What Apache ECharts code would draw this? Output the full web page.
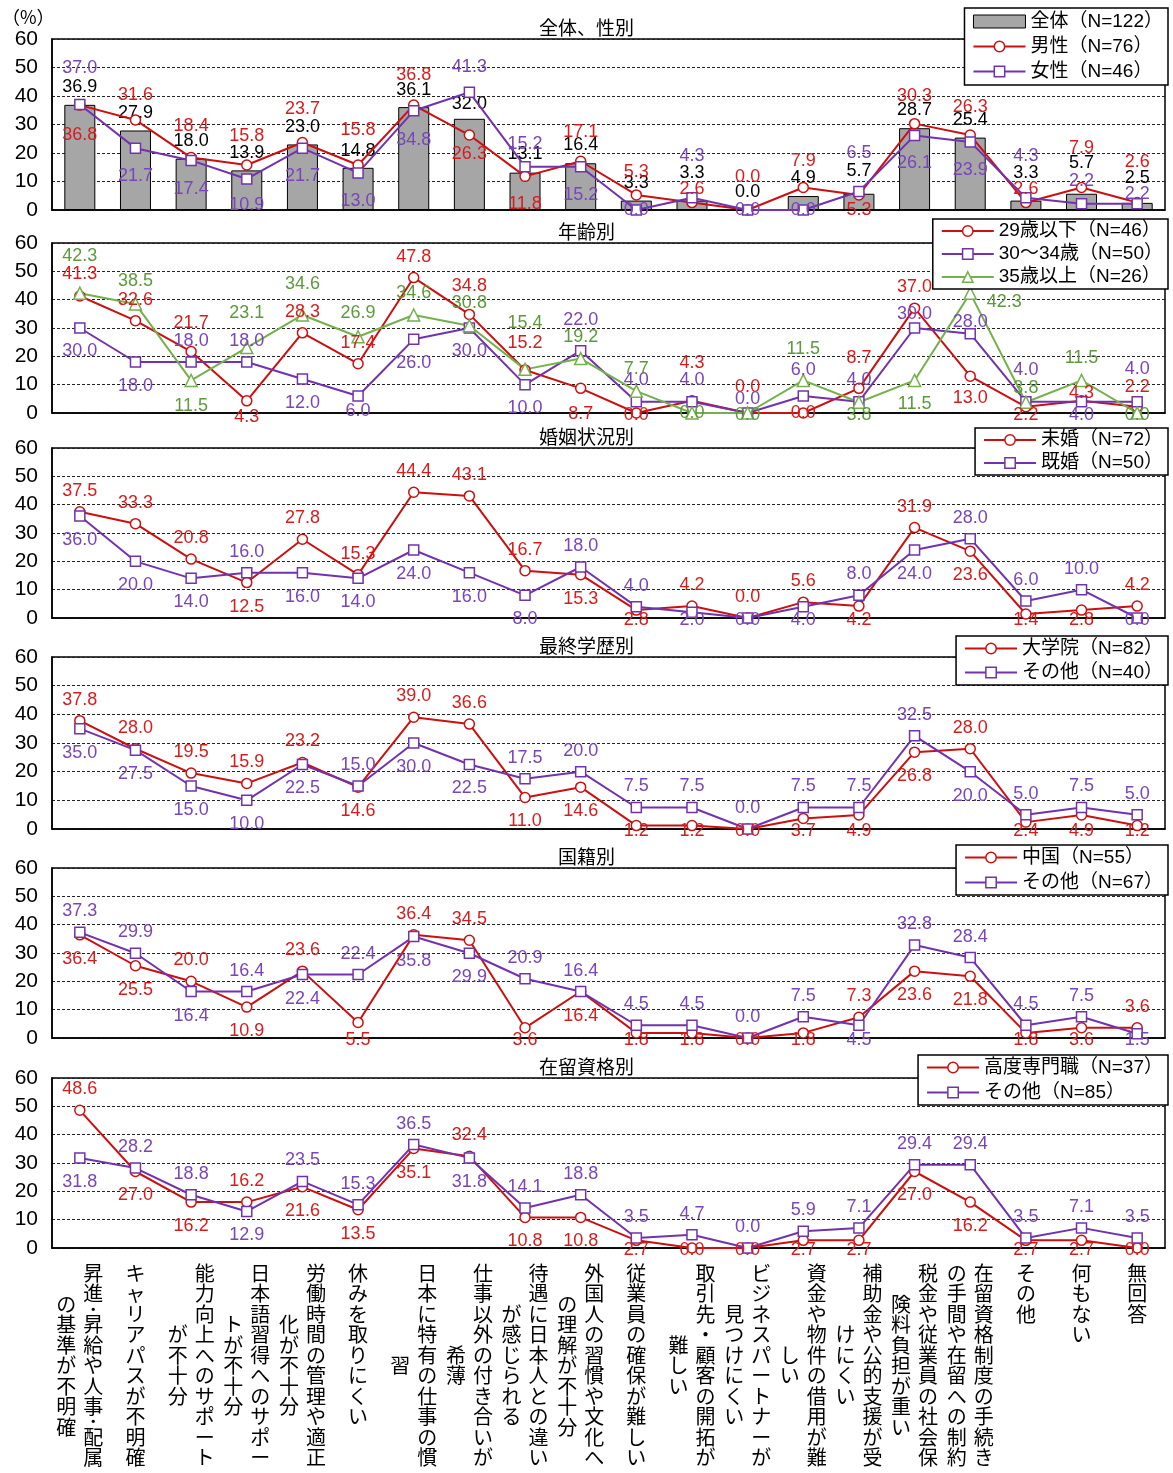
<!DOCTYPE html>
<html>
<head>
<meta charset="utf-8">
<script src="https://cdn.jsdelivr.net/npm/echarts@6/dist/echarts.min.js"></script>
<style>
  html, body { margin: 0; padding: 0; background: #fff; }
  #chart { width: 1173px; height: 1473px; }
</style>
</head>
<body>
<div id="chart"></div>
<script>
// ---- categories: each entry lists the vertical text columns, read right to left ----
const categoryColumns = [
  ['昇進･昇給や人事･配属', 'の基準が不明確'],
  ['キャリアパスが不明確'],
  ['能力向上へのサポート', 'が不十分'],
  ['日本語習得へのサポー', 'トが不十分'],
  ['労働時間の管理や適正', '化が不十分'],
  ['休みを取りにくい'],
  ['日本に特有の仕事の慣', '習'],
  ['仕事以外の付き合いが', '希薄'],
  ['待遇に日本人との違い', 'が感じられる'],
  ['外国人の習慣や文化へ', 'の理解が不十分'],
  ['従業員の確保が難しい'],
  ['取引先・顧客の開拓が', '難しい'],
  ['ビジネスパートナーが', '見つけにくい'],
  ['資金や物件の借用が難', 'しい'],
  ['補助金や公的支援が受', 'けにくい'],
  ['税金や従業員の社会保', '険料負担が重い'],
  ['在留資格制度の手続き', 'の手間や在留への制約'],
  ['その他'],
  ['何もない'],
  ['無回答']
];
const categoryNames = categoryColumns.map(c => c.join(''));

// ---- value axis ----
const yMin = 0, yMax = 60, yStep = 10;

// ---- 全体、性別 ----
const totalAll     = [36.9, 27.9, 18.0, 13.9, 23.0, 14.8, 36.1, 32.0, 13.1, 16.4, 3.3, 3.3, 0.0, 4.9, 5.7, 28.7, 25.4, 3.3, 5.7, 2.5];
const genderMale   = [36.8, 31.6, 18.4, 15.8, 23.7, 15.8, 36.8, 26.3, 11.8, 17.1, 5.3, 2.6, 0.0, 7.9, 5.3, 30.3, 26.3, 2.6, 7.9, 2.6];
const genderFemale = [37.0, 21.7, 17.4, 10.9, 21.7, 13.0, 34.8, 41.3, 15.2, 15.2, 0.0, 4.3, 0.0, 0.0, 6.5, 26.1, 23.9, 4.3, 2.2, 2.2];

// ---- 年齢別 ----
const ageUnder29 = [41.3, 32.6, 21.7, 4.3, 28.3, 17.4, 47.8, 34.8, 15.2, 8.7, 0.0, 4.3, 0.0, 0.0, 8.7, 37.0, 13.0, 2.2, 4.3, 2.2];
const age30to34  = [30.0, 18.0, 18.0, 18.0, 12.0, 6.0, 26.0, 30.0, 10.0, 22.0, 4.0, 4.0, 0.0, 6.0, 4.0, 30.0, 28.0, 4.0, 4.0, 4.0];
const age35plus  = [42.3, 38.5, 11.5, 23.1, 34.6, 26.9, 34.6, 30.8, 15.4, 19.2, 7.7, 0.0, 0.0, 11.5, 3.8, 11.5, 42.3, 3.8, 11.5, 0.0];

// ---- 婚姻状況別 ----
const unmarried = [37.5, 33.3, 20.8, 12.5, 27.8, 15.3, 44.4, 43.1, 16.7, 15.3, 2.8, 4.2, 0.0, 5.6, 4.2, 31.9, 23.6, 1.4, 2.8, 4.2];
const married   = [36.0, 20.0, 14.0, 16.0, 16.0, 14.0, 24.0, 16.0, 8.0, 18.0, 4.0, 2.0, 0.0, 4.0, 8.0, 24.0, 28.0, 6.0, 10.0, 0.0];

// ---- 最終学歴別 ----
const eduGraduate = [37.8, 28.0, 19.5, 15.9, 23.2, 14.6, 39.0, 36.6, 11.0, 14.6, 1.2, 1.2, 0.0, 3.7, 4.9, 26.8, 28.0, 2.4, 4.9, 1.2];
const eduOther    = [35.0, 27.5, 15.0, 10.0, 22.5, 15.0, 30.0, 22.5, 17.5, 20.0, 7.5, 7.5, 0.0, 7.5, 7.5, 32.5, 20.0, 5.0, 7.5, 5.0];

// ---- 国籍別 ----
const natChina = [36.4, 25.5, 20.0, 10.9, 23.6, 5.5, 36.4, 34.5, 3.6, 16.4, 1.8, 1.8, 0.0, 1.8, 7.3, 23.6, 21.8, 1.8, 3.6, 3.6];
const natOther = [37.3, 29.9, 16.4, 16.4, 22.4, 22.4, 35.8, 29.9, 20.9, 16.4, 4.5, 4.5, 0.0, 7.5, 4.5, 32.8, 28.4, 4.5, 7.5, 1.5];

// ---- 在留資格別 ----
const visaHighlySkilled = [48.6, 27.0, 16.2, 16.2, 21.6, 13.5, 35.1, 32.4, 10.8, 10.8, 2.7, 0.0, 0.0, 2.7, 2.7, 27.0, 16.2, 2.7, 2.7, 0.0];
const visaOther         = [31.8, 28.2, 18.8, 12.9, 23.5, 15.3, 36.5, 31.8, 14.1, 18.8, 3.5, 4.7, 0.0, 5.9, 7.1, 29.4, 29.4, 3.5, 7.1, 3.5];

// ---- data label placement (vertical nudge in px; 'a' = above, 'b' = below) ----
const lblTotal  = [-18,-17,-18,-17,-17,-17,-17,-15,-19,-18,-18,-28,-17,-18,-23,-18,-18,-28,-31,-25];
const lblMale   = [30,-25,-32,-29,-33,-35,-30,19,28,-29,-23,-14,-33,-26,15,-28,-28,-14,-39,-41];
const lblFemale = [-37,28,29,26,28,28,29,-25,-23,28,0,-42,0,0,-38,27,28,-42,-23,-10];
const lblAge29  = [-22,-21,-28,16,-21,-21,-21,-28,-27,26,2,-38,-26,0,-30,-21,22,8,-8,-20];
const lblAge30  = [23,24,-21,-21,24,15,24,23,23,-31,-22,-22,-14,-26,-22,-14,-12,-32,13,-33];
const lblAge35  = [-37,-23,26,-35,-31,-24,-22,-23,-46,-22,-22,0,2,-31,13,24,[34,9],-14,-22,2];
const lblUnmarried = 'aaabaaaaabbaaababbba';
const lblMarried   = 'bbbabbbbbaabbbabaaab';
const lblEduGrad   = 'aaaaabaabbbbbbbbabbb';
const lblEduOther  = 'bbbbbabbaaaaaaaabaaa';
const lblChina     = 'bbababaabbbbbbabbbba';
const lblNatOther  = 'aabababbaaaaaabaaaab';
const lblVisaHS    = 'abbabbbabbbbbbbbbbbb';
const lblVisaOther = 'baabaaabaaaaaaaaaaaa';

// ---- styling ----
const FONT_LATIN = '"Liberation Sans", Arial, "Noto Sans CJK JP", sans-serif';
const FONT_CJK = '"Noto Sans CJK JP", "Liberation Sans", sans-serif';
const RED = '#cc0f0f', RED_TEXT = '#d81c1c';
const PURPLE = '#7232ad', PURPLE_TEXT = '#7a44bb';
const GREEN = '#74b04b', GREEN_TEXT = '#5c9a3c';
const BAR_GRAY = '#a6a6a6';
const LABEL_FS = 18;

const redCircle = { color: RED, textColor: RED_TEXT, symbol: 'circle', symbolSize: 10 };
const purpleSquare = { color: PURPLE, textColor: PURPLE_TEXT, symbol: 'rect', symbolSize: 10 };
const greenTriangle = { color: GREEN, textColor: GREEN_TEXT, symbol: 'triangle', symbolSize: 12 };

const panels = [
  { title: '全体、性別', top: 39, height: 171, legendTop: 8, legendLine: 23, legendGap: 2, legendPad: 2,
    series: [
      { kind: 'bar', name: '全体（N=122）', values: totalAll, labels: lblTotal },
      Object.assign({ kind: 'line', name: '男性（N=76）', values: genderMale, labels: lblMale }, redCircle),
      Object.assign({ kind: 'line', name: '女性（N=46）', values: genderFemale, labels: lblFemale }, purpleSquare)
    ] },
  { title: '年齢別', top: 243, height: 170, legendTop: 219, legendLine: 22, legendGap: 1, legendPad: 1,
    series: [
      Object.assign({ kind: 'line', name: '29歳以下（N=46）', values: ageUnder29, labels: lblAge29 }, redCircle),
      Object.assign({ kind: 'line', name: '30～34歳（N=50）', values: age30to34, labels: lblAge30 }, purpleSquare),
      Object.assign({ kind: 'line', name: '35歳以上（N=26）', values: age35plus, labels: lblAge35 }, greenTriangle)
    ] },
  { title: '婚姻状況別', top: 448, height: 170, legendTop: 428, legendLine: 22, legendGap: 1, legendPad: 1,
    series: [
      Object.assign({ kind: 'line', name: '未婚（N=72）', values: unmarried, labels: lblUnmarried }, redCircle),
      Object.assign({ kind: 'line', name: '既婚（N=50）', values: married, labels: lblMarried }, purpleSquare)
    ] },
  { title: '最終学歴別', top: 657, height: 172, legendTop: 636, legendLine: 23, legendGap: 1, legendPad: 1,
    series: [
      Object.assign({ kind: 'line', name: '大学院（N=82）', values: eduGraduate, labels: lblEduGrad }, redCircle),
      Object.assign({ kind: 'line', name: 'その他（N=40）', values: eduOther, labels: lblEduOther }, purpleSquare)
    ] },
  { title: '国籍別', top: 868, height: 170, legendTop: 845, legendLine: 23, legendGap: 2, legendPad: 1,
    series: [
      Object.assign({ kind: 'line', name: '中国（N=55）', values: natChina, labels: lblChina }, redCircle),
      Object.assign({ kind: 'line', name: 'その他（N=67）', values: natOther, labels: lblNatOther }, purpleSquare)
    ] },
  { title: '在留資格別', top: 1078, height: 170, legendTop: 1055, legendLine: 23, legendGap: 2, legendPad: 1,
    series: [
      Object.assign({ kind: 'line', name: '高度専門職（N=37）', values: visaHighlySkilled, labels: lblVisaHS }, redCircle),
      Object.assign({ kind: 'line', name: 'その他（N=85）', values: visaOther, labels: lblVisaOther }, purpleSquare)
    ] }
];

// label nudge: 'a' sits above the point, 'b' below but never past the zero line
function labelOffset(code, value, plotH) {
  const px = value * plotH / (yMax - yMin);
  if (code === 'a') return [0, -21];
  if (code === 'b') return [0, Math.min(24, px + 2)];
  if (Array.isArray(code)) return code.slice();
  return [0, code];
}

const fmt = p => Number(p.value).toFixed(1);

function makeSeries(s, gi, plotH) {
  const items = s.values.map((v, i) => {
    const off = labelOffset(s.labels[i], v, plotH);
    if (s.kind === 'bar') off[1] += 9;
    return { value: v, label: { offset: off } };
  });
  if (s.kind === 'bar') {
    return {
      type: 'bar', name: s.name, xAxisIndex: gi, yAxisIndex: gi, data: items,
      barWidth: 31,
      itemStyle: { color: BAR_GRAY, borderColor: '#000', borderWidth: 1 },
      label: { show: true, position: 'top', distance: 0, formatter: fmt,
               fontSize: LABEL_FS, fontFamily: FONT_LATIN, color: '#000' },
      emphasis: { disabled: true }, silent: true
    };
  }
  return {
    type: 'line', name: s.name, xAxisIndex: gi, yAxisIndex: gi, data: items,
    symbol: s.symbol, symbolSize: s.symbolSize, showAllSymbol: true,
    lineStyle: { color: s.color, width: 2 },
    itemStyle: { color: '#fff', borderColor: s.color, borderWidth: 1.5 },
    label: { show: true, position: 'inside', formatter: fmt,
             fontSize: LABEL_FS, fontFamily: FONT_LATIN, color: s.textColor },
    emphasis: { disabled: true }, silent: true
  };
}

function legendItem(s) {
  if (s.kind === 'bar') {
    return { name: s.name, icon: 'rect',
             itemStyle: { color: BAR_GRAY, borderColor: '#000', borderWidth: 1 } };
  }
  return { name: s.name,
           itemStyle: { color: '#fff', borderColor: s.color, borderWidth: 1.5 },
           lineStyle: { color: s.color, width: 2 } };
}

// ---- vertical category text ----
const CAT_FS = 20, CAT_LH = 20.5, COL_SHIFT = 27;
function columnLength(str) {
  let n = 0;
  for (const ch of str) n += (ch === '･') ? 0.5 : 1;
  return n;
}
function columnRich(str, style) {
  return Array.from(str).map(ch => ch === '･' ? `{${style}h|${ch}}` : `{${style}|${ch}}`).join('\n');
}
function catStyle(padding, lh) {
  return { fontSize: CAT_FS, lineHeight: lh, fontFamily: FONT_CJK, color: '#000', padding: padding };
}
const catRich = {
  c:  catStyle([0, 0, 0, 0], CAT_LH),
  ch: catStyle([0, 0, 0, 0], CAT_LH / 2),
  r:  catStyle([0, 0, 0, COL_SHIFT], CAT_LH),
  rh: catStyle([0, 0, 0, COL_SHIFT], CAT_LH / 2),
  l:  catStyle([0, COL_SHIFT, 0, 0], CAT_LH),
  lh: catStyle([0, COL_SHIFT, 0, 0], CAT_LH / 2),
  sp: { fontSize: 6, lineHeight: CAT_LH / 2 }
};
function firstColumnLabel(value, idx) {
  const cols = categoryColumns[idx];
  return cols.length === 1 ? columnRich(cols[0], 'c') : columnRich(cols[0], 'r');
}
function secondColumnLabel(value, idx) {
  const cols = categoryColumns[idx];
  if (cols.length < 2) return '';
  const halfLines = Math.round(columnLength(cols[0]) - columnLength(cols[1]));
  const spacer = halfLines > 0 ? Array(halfLines).fill('{sp| }').join('\n') + '\n' : '';
  return spacer + columnRich(cols[1], 'l');
}

// ---- assemble option ----
const titles = [{
  text: '（%）', left: 2, top: 8, padding: 0,
  textStyle: { fontSize: 18, fontWeight: 'normal', color: '#000', fontFamily: FONT_CJK }
}];
const grids = [], xAxes = [], yAxes = [], legends = [], series = [];
const lastPanel = panels.length - 1;

panels.forEach((p, gi) => {
  grids.push({ left: 52, right: 8, top: p.top, height: p.height, show: true,
               borderColor: '#000', borderWidth: 1.5, containLabel: false, outerBoundsMode: 'none' });
  titles.push({ text: p.title, left: 'center', top: p.top - 21, padding: 0,
                textStyle: { fontSize: 19, fontWeight: 'normal', color: '#000', fontFamily: FONT_CJK, lineHeight: 20 } });
  xAxes.push({
    type: 'category', gridIndex: gi, data: categoryNames, boundaryGap: true, position: 'bottom',
    axisLine: { show: true, lineStyle: { color: '#000', width: 1.5 } },
    axisTick: { show: false }, splitLine: { show: false },
    axisLabel: gi === lastPanel
      ? { show: true, interval: 0, margin: 15, formatter: firstColumnLabel, rich: catRich, hideOverlap: false }
      : { show: false }
  });
  yAxes.push({
    type: 'value', gridIndex: gi, min: yMin, max: yMax, interval: yStep,
    axisLine: { show: true, lineStyle: { color: '#000', width: 1.5 } },
    axisTick: { show: false },
    axisLabel: { fontSize: 21, color: '#000', fontFamily: FONT_LATIN, margin: 14 },
    splitLine: { show: true, lineStyle: { color: '#222', width: 1, type: [3, 2] } }
  });
  legends.push({
    orient: 'vertical', right: 5, top: p.legendTop,
    backgroundColor: '#fff', borderColor: '#000', borderWidth: 1.5, borderRadius: 0,
    padding: [p.legendPad, 5, p.legendPad, 8], itemGap: p.legendGap,
    itemWidth: 52, itemHeight: 13, selectedMode: false, z: 10,
    textStyle: { fontSize: 19, lineHeight: p.legendLine, color: '#000', fontFamily: FONT_LATIN },
    data: p.series.map(legendItem)
  });
  p.series.forEach(s => series.push(makeSeries(s, gi, p.height)));
});

// second text column of the category labels under the bottom panel
xAxes.push({
  type: 'category', gridIndex: lastPanel, data: categoryNames, boundaryGap: true, position: 'bottom',
  axisLine: { show: false }, axisTick: { show: false }, splitLine: { show: false },
  axisLabel: { show: true, interval: 0, margin: 15, formatter: secondColumnLabel, rich: catRich, hideOverlap: false }
});

const chart = echarts.init(document.getElementById('chart'), null, { renderer: 'canvas' });
chart.setOption({
  backgroundColor: '#fff',
  animation: false,
  title: titles,
  grid: grids,
  xAxis: xAxes,
  yAxis: yAxes,
  legend: legends,
  series: series
});
</script>
</body>
</html>
